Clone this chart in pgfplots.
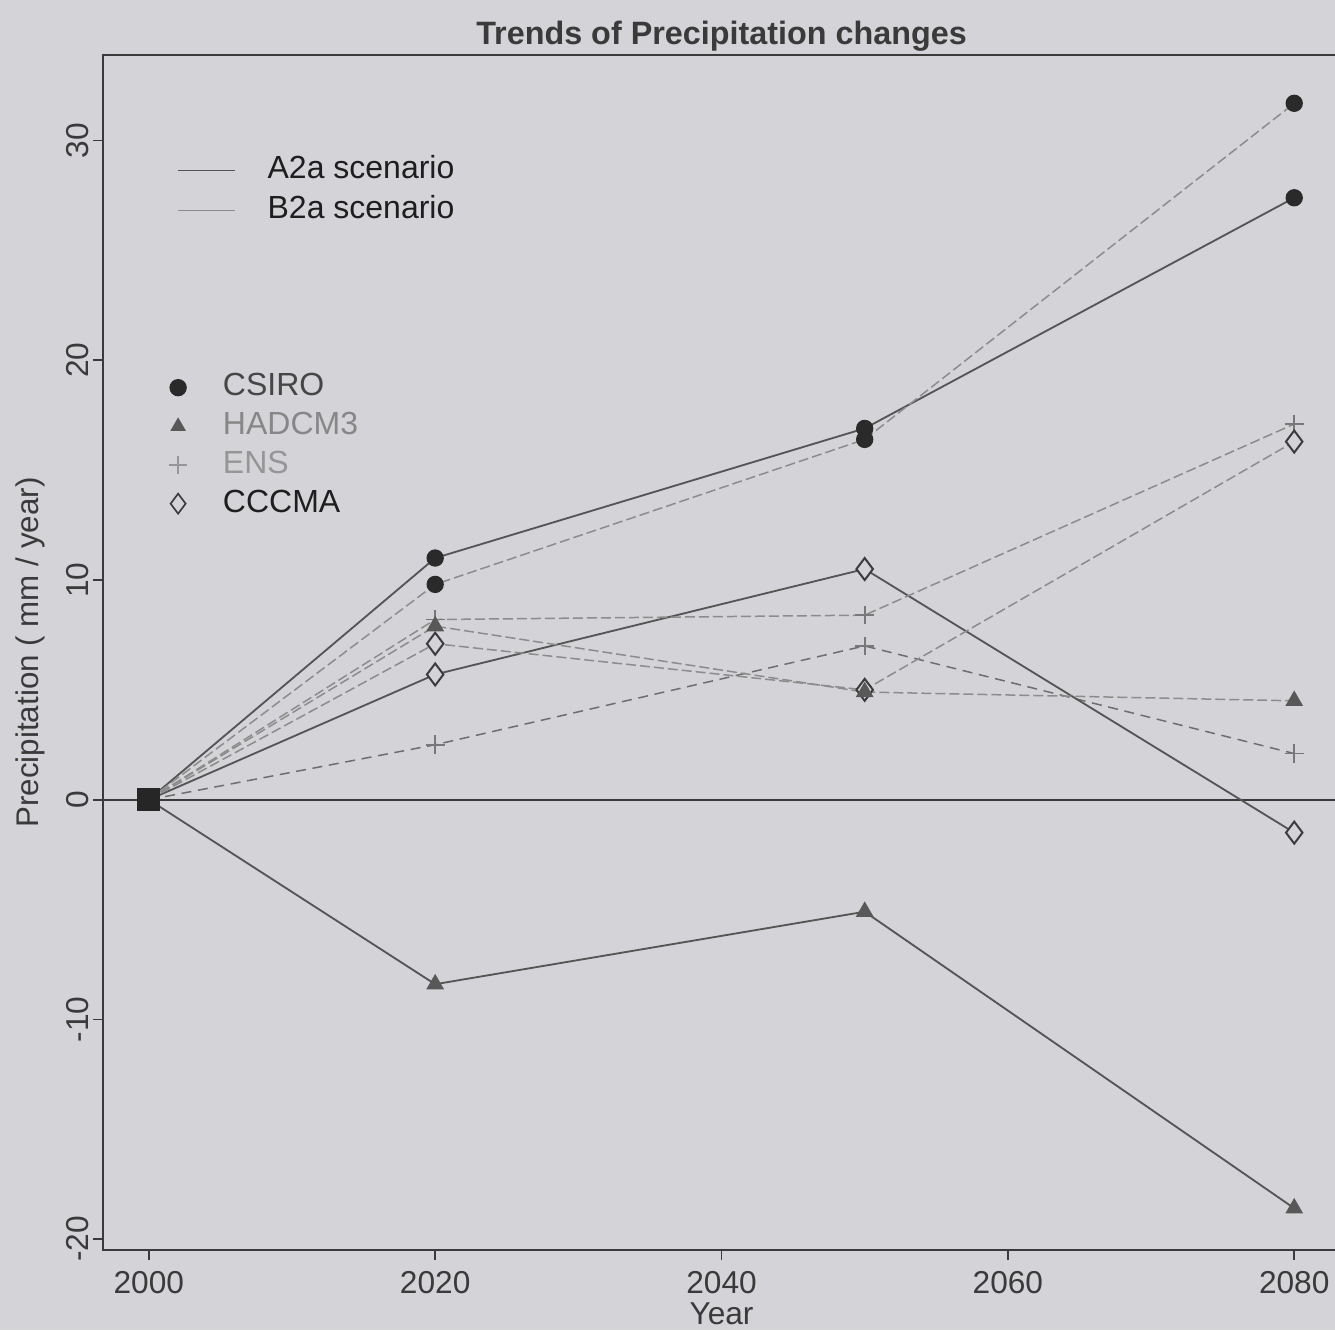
\documentclass[border=0pt]{standalone}
\usepackage{pgfplots}
\pgfplotsset{compat=1.18}
\usepackage{pgfplotstable}
\usepackage{fontspec}
\setmainfont{Liberation Sans}
\definecolor{bgc}{RGB}{212,212,216}
\definecolor{axc}{RGB}{58,58,58}
\definecolor{lA}{RGB}{85,85,85}
\definecolor{lE}{RGB}{110,110,110}
\definecolor{lB}{RGB}{140,140,140}
\definecolor{cCS}{RGB}{42,42,42}
\definecolor{cHA}{RGB}{88,88,88}
\definecolor{cEN}{RGB}{120,120,120}
\definecolor{cCC}{RGB}{60,60,60}
\definecolor{tCS}{RGB}{70,70,70}
\definecolor{tHA}{RGB}{135,135,135}
\definecolor{tEN}{RGB}{150,150,150}
\definecolor{tCC}{RGB}{30,30,30}

\pgfplotstableread{
year CSa  CSb  HAa   HAb ENa ENb  CCa  CCb
2000 0    0    0     0   0   0    0    0
2020 11.0 9.8  -8.4  7.9 2.5 8.2  5.7  7.1
2050 16.9 16.4 -5.1  4.9 7.0 8.4  10.5 5.0
2080 27.4 31.7 -18.6 4.5 2.1 17.1 -1.5 16.3
}\data
\pgfplotstableread{
year val
2000 0
}\origin

\begin{document}
\begin{tikzpicture}
\fill[bgc] (0,0) rectangle (400.5pt,399pt);
\begin{axis}[
  at={(30.9pt,24pt)}, anchor=south west,
  scale only axis, width=371.1pt, height=358.5pt,
  xmin=1996.8, xmax=2083.2, ymin=-20.5, ymax=33.9,
  xtick={2000,2020,2040,2060,2080}, ytick={-20,-10,0,10,20,30},
  tick align=outside, xtick pos=left, ytick pos=left,
  major tick length=3pt,
  axis line style={color=axc, line width=0.6pt},
  every tick/.style={color=axc, line width=0.5pt},
  /pgf/number format/assume math mode=true,
  /pgf/number format/1000 sep={},
  tick label style={font=\fontsize{9.5}{11}\selectfont, text=axc},
  yticklabel style={rotate=90, anchor=south, inner sep=1pt},
  title={\textbf{Trends of Precipitation changes}},
  title style={font=\fontsize{9.7}{11}\selectfont, text=axc, at={(axis description cs:0.5,1)}, anchor=center, yshift=-0.3pt},
  xlabel={Year},
  xlabel style={font=\fontsize{9.5}{11}\selectfont, text=axc, at={(axis description cs:0.5,0)}, anchor=center, yshift=-19pt},
  ylabel={Precipitation ( mm / year)},
  ylabel style={font=\fontsize{9.4}{11}\selectfont, text=axc, at={(axis description cs:0,0.5)}, anchor=center, yshift=21.9pt},
  legend cell align=left,
  legend style={draw=none, fill=none, at={(0.0596,0.9191)}, anchor=north west, inner sep=0pt,
    font=\fontsize{9.6}{11}\selectfont, row sep=1pt, column sep=8.5pt,
    nodes={inner sep=1pt, text height=7pt, text depth=2pt}},
]
\addlegendimage{lA, line width=0.5pt}
\addlegendentry{\textcolor{tCC}{A2a scenario}}
\addlegendimage{lB, line width=0.5pt}
\addlegendentry{\textcolor{tCC}{B2a scenario}}

% zero line
\addplot[forget plot, axc, line width=0.5pt] coordinates {(1996.8,0) (2083.2,0)};

% A2a lines
\addplot[forget plot, lA, line width=0.55pt, no marks] table[x=year,y=CSa] {\data};
\addplot[forget plot, lA, line width=0.55pt, no marks] table[x=year,y=HAa] {\data};
\addplot[forget plot, lE, line width=0.45pt, no marks, densely dashed] table[x=year,y=ENa] {\data};
\addplot[forget plot, lA, line width=0.55pt, no marks] table[x=year,y=CCa] {\data};
% B2a lines
\addplot[forget plot, lB, line width=0.45pt, no marks, dash pattern=on 3pt off 1.2pt] table[x=year,y=CSb] {\data};
\addplot[forget plot, lB, line width=0.45pt, no marks, dash pattern=on 3pt off 1.2pt] table[x=year,y=HAb] {\data};
\addplot[forget plot, lB, line width=0.45pt, no marks, dash pattern=on 3pt off 1.2pt] table[x=year,y=ENb] {\data};
\addplot[forget plot, lB, line width=0.45pt, no marks, dash pattern=on 3pt off 1.2pt] table[x=year,y=CCb] {\data};

% markers
\addplot[forget plot, only marks, mark=+, mark size=2.8pt, cEN, line width=0.5pt, skip coords between index={0}{1}] table[x=year,y=ENa] {\data};
\addplot[forget plot, only marks, mark=+, mark size=2.8pt, cEN, line width=0.5pt, skip coords between index={0}{1}] table[x=year,y=ENb] {\data};
\addplot[forget plot, only marks, mark=diamond*, mark size=3.3pt, draw=cCC, fill=bgc, line width=0.6pt, skip coords between index={0}{1}] table[x=year,y=CCa] {\data};
\addplot[forget plot, only marks, mark=diamond*, mark size=3.3pt, draw=cCC, fill=bgc, line width=0.6pt, skip coords between index={0}{1}] table[x=year,y=CCb] {\data};
\addplot[forget plot, only marks, mark=triangle*, mark size=2.7pt, draw=cHA, fill=cHA, skip coords between index={0}{1}] table[x=year,y=HAa] {\data};
\addplot[forget plot, only marks, mark=triangle*, mark size=2.7pt, draw=cHA, fill=cHA, skip coords between index={0}{1}] table[x=year,y=HAb] {\data};
\addplot[forget plot, only marks, mark=*, mark size=2.4pt, draw=cCS, fill=cCS, skip coords between index={0}{1}] table[x=year,y=CSa] {\data};
\addplot[forget plot, only marks, mark=*, mark size=2.4pt, draw=cCS, fill=cCS, skip coords between index={0}{1}] table[x=year,y=CSb] {\data};
\addplot[forget plot, only marks, mark=square*, mark size=3.2pt, draw=black!85, fill=black!85] table[x=year,y=val] {\origin};
\end{axis}

\begin{axis}[
  at={(30.9pt,24pt)}, anchor=south west,
  scale only axis, width=371.1pt, height=358.5pt,
  xmin=1996.8, xmax=2083.2, ymin=-20.5, ymax=33.9,
  hide axis,
  legend cell align=left,
  legend image code/.code={\path (-3.5pt,0pt) (3.5pt,0pt); \draw[#1] plot coordinates {(0pt,0pt)};},
  legend style={draw=none, fill=none, at={(0.0501,0.7375)}, anchor=north west, inner sep=0pt,
    font=\fontsize{9.6}{11}\selectfont, row sep=0.6pt, column sep=8.7pt,
    nodes={inner sep=1pt, text height=7pt, text depth=2pt}},
]
\addlegendimage{only marks, mark=*, mark size=2.4pt, draw=cCS, fill=cCS}
\addlegendentry{\textcolor{tCS}{CSIRO}}
\addlegendimage{only marks, mark=triangle*, mark size=2.3pt, draw=cHA, fill=cHA}
\addlegendentry{\textcolor{tHA}{HADCM3}}
\addlegendimage{only marks, mark=+, mark size=2.6pt, draw=tEN, line width=0.4pt}
\addlegendentry{\textcolor{tEN}{ENS}}
\addlegendimage{only marks, mark=diamond, mark size=3pt, draw=cCC, line width=0.5pt}
\addlegendentry{\textcolor{tCC}{CCCMA}}
\end{axis}
\pgfresetboundingbox
\path (0,0) rectangle (400.5pt,399pt);
\end{tikzpicture}
\end{document}
